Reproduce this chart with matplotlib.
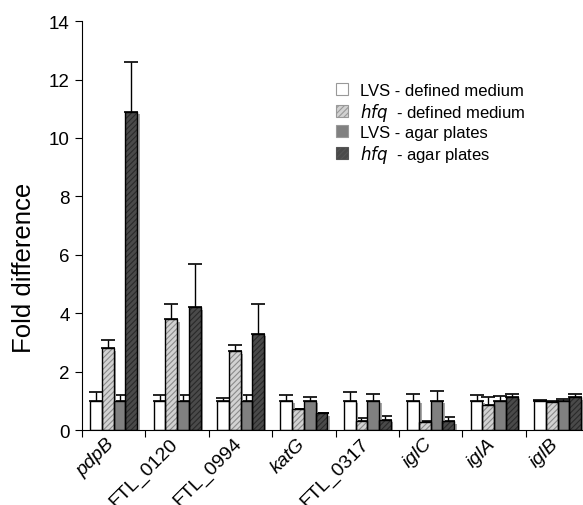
import matplotlib
matplotlib.use("Agg")
import matplotlib.pyplot as plt
import matplotlib.transforms as mtransforms
import numpy as np
from matplotlib.patches import Patch

plt.rcParams['font.family'] = ['Liberation Sans', 'DejaVu Sans']
plt.rcParams['hatch.linewidth'] = 0.8

genes = ['pdpB', 'FTL_0120', 'FTL_0994', 'katG', 'FTL_0317', 'iglC', 'iglA', 'iglB']
italic = [True, False, False, True, False, True, True, True]

series = ['LVS - defined medium', 'hfq - defined medium', 'LVS - agar plates', 'hfq - agar plates']
lvs_def = [1.0, 1.0, 1.0, 1.0, 1.0, 1.0, 1.0, 1.0]
lvs_def_err = [0.3, 0.2, 0.1, 0.2, 0.3, 0.25, 0.2, 0.03]
hfq_def = [2.8, 3.8, 2.7, 0.72, 0.32, 0.27, 0.87, 0.95]
hfq_def_err = [0.3, 0.5, 0.2, 0.0, 0.08, 0.03, 0.25, 0.05]
lvs_agar = [1.0, 1.0, 1.0, 1.0, 1.0, 1.0, 1.0, 1.0]
lvs_agar_err = [0.2, 0.2, 0.2, 0.15, 0.25, 0.35, 0.17, 0.08]
hfq_agar = [10.9, 4.2, 3.3, 0.58, 0.35, 0.3, 1.15, 1.12]
hfq_agar_err = [1.7, 1.5, 1.0, 0.0, 0.14, 0.14, 0.1, 0.13]

values = [lvs_def, hfq_def, lvs_agar, hfq_agar]
errors = [lvs_def_err, hfq_def_err, lvs_agar_err, hfq_agar_err]
faces = ['white', '#d2d2d2', '#808080', '#4a4a4a']
hatchcol = [None, '#8a8a8a', None, '#2a2a2a']
hatches = [None, '//////', None, '//////']

fig = plt.figure(figsize=(5.83, 5.06), dpi=100)
ax = fig.add_axes([0.1407, 0.148, 0.87, 0.8083])

x = np.arange(len(genes))
w = 0.185
offsets = (np.arange(4) - 1.5) * w
shadow_tr = ax.transData + mtransforms.ScaledTranslation(2.5 / 100, -2.5 / 100, fig.dpi_scale_trans)

for i in range(4):
    xs = x + offsets[i]
    sb = ax.bar(xs, values[i], w, color='0.65', linewidth=0, zorder=1.5)
    for p in sb:
        p.set_transform(shadow_tr)
    ax.bar(xs, values[i], w, color=faces[i], edgecolor=hatchcol[i] if hatchcol[i] else faces[i],
           linewidth=0, hatch=hatches[i], zorder=2)
    ax.bar(xs, values[i], w, fill=False, edgecolor='black', linewidth=1.0, zorder=3)
    ax.errorbar(xs, values[i], yerr=[np.zeros(len(genes)), errors[i]], fmt='none',
                ecolor='black', elinewidth=1.0, capsize=5, capthick=1.2, zorder=1)

ax.set_xlim(-0.5, 7.5)
ax.set_ylim(0, 14)
ax.set_yticks(np.arange(0, 15, 2))
ax.tick_params(axis='y', labelsize=13.5, length=5, width=0.8, direction='out', pad=4)
ax.set_xticks(np.arange(-0.5, 8, 1))
ax.set_xticklabels([])
ax.tick_params(axis='x', length=5, width=0.8, direction='out')
for gi, g in enumerate(genes):
    ax.text(gi - 0.12, -0.15, g, rotation=45, ha='right', va='top', rotation_mode='anchor',
            fontsize=14, style='italic' if italic[gi] else 'normal', transform=ax.transData)

ax.spines['top'].set_visible(False)
ax.spines['right'].set_visible(False)
ax.spines['left'].set_linewidth(0.8)
ax.spines['bottom'].set_linewidth(0.8)
ax.set_ylabel('Fold difference', fontsize=18.5)
ax.yaxis.set_label_coords(-0.09, 0.40)

handles = []
for i in range(4):
    handles.append(Patch(facecolor=faces[i], edgecolor='#999999' if i != 3 else '#555555',
                         hatch=hatches[i], linewidth=0.8))
labels = ['LVS - defined medium', r'$\it{hfq}$  - defined medium', 'LVS - agar plates', r'$\it{hfq}$  - agar plates']
leg = ax.legend(handles, labels, loc='upper left', bbox_to_anchor=(0.472, 0.885), frameon=False,
                fontsize=12, handlelength=0.7, handleheight=0.7, handletextpad=0.7, labelspacing=0.15)

fig.savefig('out.png', dpi=100)
